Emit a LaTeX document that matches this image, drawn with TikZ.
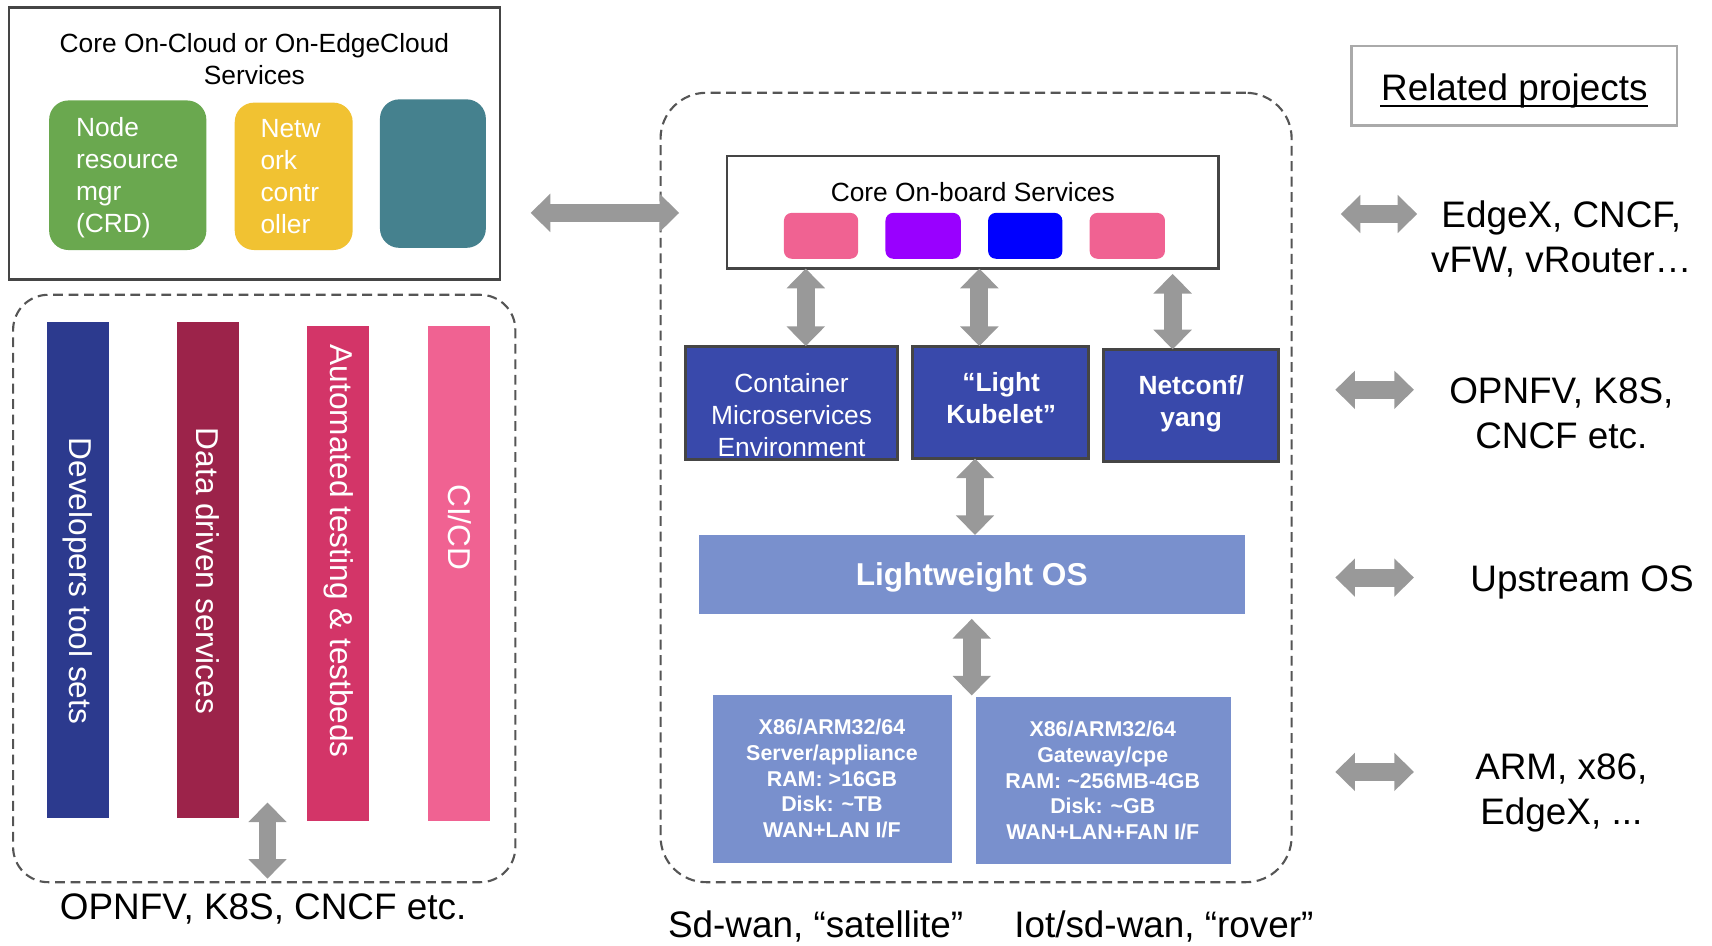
\documentclass[tikz,border=0pt]{standalone}
\usepackage{fontspec}
\setmainfont{Liberation Sans}
\usetikzlibrary{arrows.meta,fit,calc}
\definecolor{agray}{HTML}{999999}
\definecolor{dgray}{HTML}{454545}
\definecolor{dashgray}{HTML}{555555}
\definecolor{lgray}{HTML}{AAAAAA}
\definecolor{cgreen}{HTML}{6AA84F}
\definecolor{cyellow}{HTML}{F1C232}
\definecolor{cteal}{HTML}{45818E}
\definecolor{cnavy}{HTML}{2C3A8E}
\definecolor{cwine}{HTML}{9C234A}
\definecolor{crose}{HTML}{D33568}
\definecolor{cpink}{HTML}{F06292}
\definecolor{cpurple}{HTML}{9900FF}
\definecolor{cblue}{HTML}{0000FF}
\definecolor{cdblue}{HTML}{3949AB}
\definecolor{clblue}{HTML}{7990CD}
\newcommand\fbig{\fontsize{10.5pt}{12.7pt}\selectfont}
\newcommand\fmid{\fontsize{9pt}{10.8pt}\selectfont}
\newcommand\fsm{\fontsize{7.5pt}{9.1pt}\selectfont}
\newcommand\fxs{\fontsize{6.1pt}{7.3pt}\selectfont}
\begin{document}
\begin{tikzpicture}[x=0.010918cm,y=-0.010918cm,
  area/.style={inner sep=0pt, outer sep=0pt},
  solidbox/.style={area, draw=dgray, line width=0.7pt},
  dashbox/.style={area, draw=dashgray, line width=0.6pt, dash pattern=on 2.8pt off 1.6pt},
  tile/.style={area, rounded corners=5.5pt},
  chip/.style={area, rounded corners=2.2pt},
  bar/.style={area},
  dbox/.style={area, fill=cdblue, draw=dgray, line width=0.8pt},
  lbox/.style={area, fill=clblue},
  wtxt/.style={text=white, inner sep=0pt, align=center},
  btxt/.style={text=black, inner sep=0pt, align=center},
  dbl/.style={draw=agray, line width=5.1pt,
    {Triangle[width=10.6pt,length=5.6pt]}-{Triangle[width=10.6pt,length=5.6pt]}}
]
\useasboundingbox (0,0) rectangle (1568,866);

% ---------- top-left box ----------
\node[solidbox, fit={(8,7)(458,256)}] (tl) {};
\node[btxt, font=\fsm] (tlT) at (233,54) {Core On-Cloud or On-EdgeCloud\\Services};
\node[tile, fill=cgreen, fit={(45,92)(189,229)}] (g1) {};
\node[wtxt, align=left, anchor=west, font=\fsm] (g1T) at (69,163) {Node\\resource\\mgr\\(CRD)};
\node[tile, fill=cyellow, fit={(215,94)(323,229)}] (y1) {};
\node[wtxt, align=left, anchor=west, font=\fsm] (y1T) at (238,162) {Netw\\ork\\contr\\oller};
\node[tile, fill=cteal, fit={(348,91)(445,227)}] (t1) {};

% ---------- left dashed box ----------
\node[dashbox, rounded corners=10pt, fit={(12,270)(472,808)}] (ld) {};
\node[bar, fill=cnavy, fit={(43,295)(100,749)}] (b1) {};
\node[bar, fill=cwine, fit={(162,295)(219,749)}] (b2) {};
\node[bar, fill=crose, fit={(281,299)(338,752)}] (b3) {};
\node[bar, fill=cpink, fit={(392,299)(449,752)}] (b4) {};
\node[wtxt, rotate=-90, font=\fmid] (b1T) at (71,532) {Developers tool sets};
\node[wtxt, rotate=-90, font=\fmid] (b2T) at (190,523) {Data driven services};
\node[wtxt, rotate=-90, font=\fmid] (b3T) at (310,505) {Automated testing \& testbeds};
\node[wtxt, rotate=-90, font=\fmid] (b4T) at (421,483) {CI/CD};
\node[btxt, anchor=base, font=\fbig] (lbot) at (241,842) {OPNFV, K8S, CNCF etc.};
\coordinate (la) at (245,735);
\draw[dbl, shorten >=1pt] (la) -- (ld.south -| la);

% ---------- middle dashed box ----------
\node[dashbox, rounded corners=13pt, fit={(605,85)(1183,808)}] (md) {};
\draw[dbl, shorten <=8.7pt, shorten >=-5.3pt] (tl.east |- 0,195) -- (md.west |- 0,195);

\node[area, draw=dgray, line width=0.7pt, fit={(666,143)(1116,246)}] (cob) {};
\node[btxt, anchor=base, font=\fsm] (cobT) at (891,184.5) {Core On-board Services};
\node[chip, fill=cpink, fit={(718,195)(786,237)}] (s1) {};
\node[chip, fill=cpurple, fit={(811,195)(880,237)}] (s2) {};
\node[chip, fill=cblue, fit={(905,195)(973,237)}] (s3) {};
\node[chip, fill=cpink, fit={(998,195)(1067,237)}] (s4) {};

\node[dbox, fit={(628,317)(822,421)}] (cont) {};
\node[wtxt, font=\fsm] (contT) at (725,380) {Container\\Microservices\\Environment};
\node[dbox, fit={(836,317)(997,420)}] (kub) {};
\node[wtxt, font=\fsm\bfseries] (kubT) at (917,364.5) {“Light\\Kubelet”};
\node[dbox, fit={(1011,320)(1171,423)}] (net) {};
\node[wtxt, font=\fsm\bfseries] (netT) at (1091,370) {Netconf/\\yang};

\draw[dbl] (cob.south -| 738,0) -- (cont.north -| 738,0);
\draw[dbl] (cob.south -| 897,0) -- (kub.north -| 897,0);
\draw[dbl, shorten <=1.5pt] (cob.south -| 1074,0) -- (net.north -| 1074,0);

\node[lbox, fit={(640,490)(1140,562)}] (los) {};
\node[wtxt, anchor=base, font=\fmid\bfseries] (losT) at (890,536.4) {Lightweight OS};
\draw[dbl] (kub.south -| 893,0) -- (los.north -| 893,0);

\node[lbox, fit={(653,637)(872,790)}] (hw1) {};
\node[wtxt, font=\fxs\bfseries] (hw1T) at (762,713) {X86/ARM32/64\\Server/appliance\\RAM: >16GB\\Disk: \textasciitilde TB\\WAN+LAN I/F};
\node[lbox, fit={(894,638)(1127,791)}] (hw2) {};
\node[wtxt, font=\fxs\bfseries] (hw2T) at (1010,715) {X86/ARM32/64\\Gateway/cpe\\RAM: \textasciitilde 256MB-4GB\\Disk: \textasciitilde GB\\WAN+LAN+FAN I/F};
\draw[dbl, shorten <=1.5pt] (los.south -| 890,0) -- (hw1.north -| 890,0);

\node[btxt, anchor=base, font=\fbig] (sat) at (747,859) {Sd-wan, “satellite”};
\node[btxt, anchor=base, font=\fbig] (rov) at (1066,859) {Iot/sd-wan, “rover”};

% ---------- right column ----------
\node[area, draw=lgray, line width=0.7pt, fit={(1238,42)(1536,115)}] (rp) {};
\node[btxt, anchor=base, font=\fbig] (rpT) at (1387,92) {Related projects};
\draw[line width=0.55pt] ([yshift=-1.6pt]rpT.base west) -- ([yshift=-1.6pt]rpT.base east);

\coordinate (r1a) at (1228,196); \coordinate (r1b) at (1298,196);
\coordinate (r2a) at (1223,357); \coordinate (r2b) at (1295,357);
\coordinate (r3a) at (1223,529); \coordinate (r3b) at (1295,529);
\coordinate (r4a) at (1223,707); \coordinate (r4b) at (1295,707);
\draw[dbl] (r1a) -- (r1b);
\draw[dbl] (r2a) -- (r2b);
\draw[dbl] (r3a) -- (r3b);
\draw[dbl] (r4a) -- (r4b);
\node[btxt, font=\fbig] (r1T) at (1430,219) {EdgeX, CNCF,\\vFW, vRouter…};
\node[btxt, font=\fbig] (r2T) at (1430,378.5) {OPNFV, K8S,\\CNCF etc.};
\node[btxt, anchor=base, font=\fbig] (r3T) at (1449,542) {Upstream OS};
\node[btxt, font=\fbig] (r4T) at (1430,726.5) {ARM, x86,\\EdgeX, ...};
\end{tikzpicture}
\end{document}
